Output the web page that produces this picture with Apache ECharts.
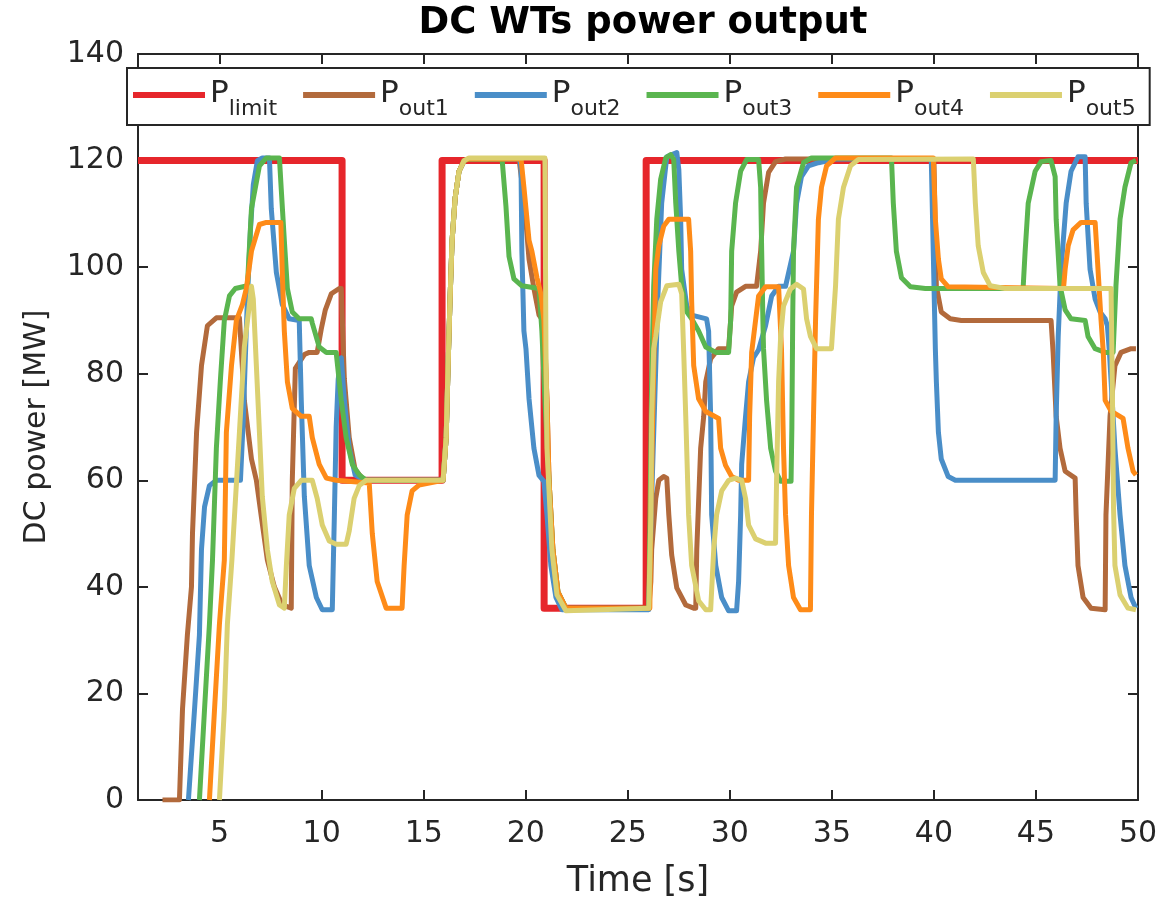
<!DOCTYPE html>
<html>
<head>
<meta charset="utf-8">
<title>DC WTs power output</title>
<script src="https://cdn.jsdelivr.net/npm/echarts@6/dist/echarts.min.js"></script>
<style>
  html, body { margin: 0; padding: 0; background: #fff; }
  #chart { width: 1161px; height: 904px; }
</style>
</head>
<body>
<div id="chart"></div>
<script>
// time ticks shown on the x axis (axis itself starts at t = 1 s)
const xTicks = [5, 10, 15, 20, 25, 30, 35, 40, 45, 50];

// power limit [MW] (step signal)
const pLimit = [
  [1, 120], [11, 120], [11, 60], [15.9, 60], [15.9, 120], [20.9, 120],
  [20.9, 36], [25.9, 36], [25.9, 120], [50, 120],
];

// WT 1 output [time s, MW]
const pOut1 = [
  [2.2, 0], [3.03, 0], [3.18, 17], [3.42, 31], [3.62, 40], [3.67, 50], [3.87, 69], [4.11, 81.5],
  [4.4, 89], [4.84, 90.5], [5.97, 90.5], [6.21, 75], [6.56, 64], [6.8, 60], [7.05, 53], [7.34, 45],
  [7.68, 40], [8.07, 36.6], [8.51, 36], [8.56, 60], [8.71, 81], [9.15, 83.6], [9.39, 84], [9.78, 84],
  [9.98, 88.4], [10.18, 92], [10.47, 95], [10.86, 96], [10.96, 96], [11.11, 79], [11.35, 68],
  [11.64, 62], [12.08, 60], [15.95, 60], [16.1, 68], [16.19, 81], [16.29, 94], [16.39, 105],
  [16.54, 113], [16.73, 118], [16.98, 120], [17.22, 120.3], [19.67, 120.3], [19.91, 113],
  [20.16, 101.5], [20.4, 96], [20.65, 91], [20.84, 90], [20.94, 86], [21.04, 75], [21.14, 60],
  [21.33, 47], [21.58, 39], [21.97, 36], [26.03, 36], [26.13, 41], [26.17, 47], [26.37, 56.6],
  [26.52, 60], [26.76, 60.7], [26.91, 60.4], [27.01, 53.5], [27.15, 46], [27.4, 39.8], [27.84, 36.6],
  [28.23, 36], [28.33, 36], [28.38, 47], [28.57, 66], [28.72, 72], [28.82, 78.5], [29.06, 82.8],
  [29.45, 84.7], [29.94, 84.7], [30.09, 92.7], [30.33, 95.3], [30.77, 96.4], [31.31, 96.4],
  [31.51, 103], [31.65, 112], [31.9, 117.8], [32.24, 119.8], [32.73, 120.3], [40.0, 120.3],
  [40.12, 96.4], [40.36, 91.6], [40.8, 90.3], [41.34, 90], [45.74, 90], [45.84, 84], [45.99, 72],
  [46.18, 66], [46.43, 61.7], [46.92, 60.4], [46.97, 53.5], [47.06, 44], [47.31, 38], [47.7, 36],
  [48.39, 35.7], [48.43, 53.5], [48.63, 72], [48.87, 81.5], [49.17, 84], [49.66, 84.7], [49.9, 84.7],
];

const pOut2 = [
  [3.47, 0], [3.77, 17], [4.01, 31], [4.11, 47], [4.26, 55], [4.5, 59], [4.84, 60], [6.02, 60],
  [6.16, 71.6], [6.26, 83], [6.36, 94], [6.51, 107], [6.65, 115.5], [6.85, 120], [7.09, 120.5],
  [7.44, 120.5], [7.53, 111], [7.78, 99], [8.07, 93], [8.41, 90.3], [8.9, 90], [9.0, 75], [9.15, 57],
  [9.39, 44], [9.74, 38], [10.03, 35.7], [10.52, 35.7], [10.62, 53], [10.71, 70], [10.81, 79],
  [10.96, 83], [11.11, 75], [11.35, 66], [11.64, 61], [12.08, 60], [15.95, 60], [16.1, 68],
  [16.19, 81], [16.29, 94], [16.39, 105], [16.54, 113], [16.73, 118], [16.98, 120], [17.22, 120.3],
  [19.72, 120.3], [19.77, 118], [19.81, 103], [19.91, 88], [20.01, 84.7], [20.16, 75.3], [20.4, 66],
  [20.65, 60.9], [20.89, 59.8], [21.04, 53.5], [21.23, 44], [21.48, 38], [21.77, 35.7], [26.03, 35.7],
  [26.17, 56.6], [26.32, 75], [26.47, 94], [26.66, 112], [26.91, 120.7], [27.4, 121.5], [27.5, 118.3],
  [27.59, 109], [27.64, 99.6], [27.89, 92.7], [28.13, 91], [28.86, 90.3], [28.96, 88], [29.06, 72],
  [29.11, 53.5], [29.31, 44], [29.6, 38], [29.94, 35.5], [30.33, 35.5], [30.43, 41], [30.53, 53.5],
  [30.58, 63], [30.77, 72], [30.92, 78.5], [31.16, 83], [31.41, 84.5], [31.75, 89], [32.05, 94.6],
  [32.39, 96.4], [32.73, 96.4], [33.12, 103], [33.27, 112], [33.51, 117], [33.85, 119], [34.34, 119.6],
  [35.18, 120.3], [39.87, 120.3], [40.07, 84.7], [40.12, 78.5], [40.22, 69], [40.36, 64], [40.7, 60.7],
  [41.05, 60], [45.94, 60], [45.99, 72], [46.09, 87], [46.23, 99.6], [46.48, 112], [46.72, 118],
  [47.06, 120.7], [47.41, 120.7], [47.46, 112], [47.65, 99.6], [47.9, 94], [48.14, 91.6], [48.39, 90.3],
  [48.5, 89], [48.6, 84], [48.87, 66], [49.12, 53.5], [49.36, 44], [49.66, 38], [49.9, 36],
];

const pOut3 = [
  [4.01, 0], [4.26, 17], [4.5, 33], [4.65, 45], [4.84, 66], [5.04, 79], [5.23, 90], [5.48, 94.6],
  [5.77, 96], [6.36, 96.5], [6.56, 111], [6.95, 119], [7.29, 120.5], [7.93, 120.5], [8.02, 114.6],
  [8.17, 105], [8.32, 96], [8.56, 91.6], [8.9, 90.3], [9.49, 90.3], [9.54, 89.5], [9.88, 85],
  [10.23, 84], [10.71, 84], [10.96, 75], [11.2, 68], [11.5, 63], [11.84, 61], [12.18, 60], [15.95, 60],
  [16.1, 68], [16.19, 81], [16.29, 94], [16.39, 105], [16.54, 113], [16.73, 118], [16.98, 120],
  [17.22, 120.3], [18.84, 120.3], [19.03, 111.4], [19.18, 102], [19.42, 97.8], [19.81, 96.5],
  [20.65, 96], [20.79, 88], [20.94, 75], [21.14, 60], [21.33, 47], [21.58, 39], [21.97, 36],
  [26.03, 36], [26.08, 50], [26.17, 79], [26.27, 96.5], [26.42, 109], [26.61, 116.5], [26.86, 120.5],
  [27.1, 121.1], [27.25, 120.2], [27.35, 112], [27.5, 103], [27.64, 96.5], [27.89, 91.6], [28.13, 90.3],
  [28.47, 88], [28.82, 85], [29.31, 84], [29.94, 84], [30.04, 90], [30.09, 103], [30.28, 112],
  [30.53, 118], [30.82, 120.2], [31.41, 120.2], [31.51, 115], [31.56, 103], [31.62, 90], [31.65, 84.7],
  [31.8, 75], [32.0, 66], [32.24, 61.7], [32.49, 59.8], [33.0, 59.8], [33.04, 70], [33.08, 90],
  [33.12, 103], [33.27, 115], [33.61, 119.6], [34.0, 120.5], [37.92, 120.5], [38.01, 112], [38.16, 103],
  [38.41, 98], [38.85, 96.3], [39.58, 96], [44.37, 96], [44.47, 103], [44.62, 112], [44.96, 118],
  [45.25, 119.8], [45.74, 120], [45.94, 117], [45.99, 109], [46.18, 96.5], [46.43, 92], [46.72, 90.3],
  [47.41, 90], [47.55, 87], [47.9, 84.7], [48.39, 84], [48.78, 84], [48.92, 96.5], [49.12, 109],
  [49.36, 115], [49.66, 119.6], [49.9, 120],
];

const pOut4 = [
  [4.5, 0], [4.75, 17], [4.99, 33], [5.23, 45], [5.33, 69], [5.58, 81.5], [5.82, 90], [6.12, 93],
  [6.31, 96], [6.56, 103], [6.95, 108], [7.29, 108.4], [8.0, 108.4], [8.07, 99], [8.17, 88],
  [8.32, 78.5], [8.56, 73.5], [9.0, 72], [9.39, 72], [9.54, 68], [9.88, 63], [10.23, 60.4], [10.71, 60],
  [12.33, 59.5], [12.48, 50], [12.72, 41], [13.16, 36], [13.94, 36], [14.04, 44], [14.19, 53.5],
  [14.43, 58], [14.77, 59.1], [15.95, 60], [16.1, 68], [16.19, 81], [16.29, 94], [16.39, 105],
  [16.54, 113], [16.73, 118], [16.98, 120], [17.22, 120.3], [19.77, 120.3], [19.91, 115], [20.01, 111],
  [20.16, 105], [20.3, 103], [20.55, 98], [20.74, 95], [20.89, 90], [21.04, 75], [21.14, 60],
  [21.33, 47], [21.58, 39], [21.97, 36], [26.08, 36], [26.13, 53], [26.22, 72], [26.32, 90],
  [26.37, 99.6], [26.52, 104], [26.76, 107.7], [27.01, 109], [27.98, 109], [28.08, 103], [28.13, 93.5],
  [28.23, 81.5], [28.47, 75.3], [28.82, 72.9], [29.45, 71.6], [29.55, 66], [29.79, 62.8], [30.09, 60.7],
  [30.43, 60], [30.92, 60], [30.97, 72], [31.07, 84], [31.26, 90], [31.41, 94.6], [31.75, 96.3],
  [32.39, 96.3], [32.53, 84.7], [32.63, 66], [32.73, 53.5], [32.88, 44], [33.12, 38], [33.46, 35.7],
  [33.95, 35.7], [34.0, 53.5], [34.1, 72], [34.2, 90], [34.34, 109], [34.49, 115], [34.74, 119],
  [35.18, 120.5], [39.97, 120.5], [40.07, 109], [40.22, 101.5], [40.36, 97.8], [40.7, 96.3],
  [46.35, 96], [46.43, 99.6], [46.58, 104], [46.82, 107], [47.21, 108.4], [47.9, 108.4], [48.04, 99.6],
  [48.19, 90], [48.3, 84], [48.39, 75], [48.68, 73], [49.27, 71.6], [49.51, 66], [49.76, 61.7], [49.9, 61],
];

const pOut5 = [
  [4.99, 0], [5.23, 17], [5.38, 33], [5.6, 45], [5.97, 69], [6.21, 85], [6.46, 93], [6.56, 96.4],
  [6.65, 94], [6.8, 81.5], [6.95, 69], [7.09, 57], [7.34, 47], [7.58, 41], [7.93, 36.6], [8.17, 36],
  [8.27, 44], [8.41, 53.5], [8.66, 58.5], [9.0, 60], [9.54, 60], [9.78, 56.6], [10.03, 51.6],
  [10.37, 48.6], [10.71, 48], [11.2, 48], [11.35, 50.5], [11.59, 56.6], [11.84, 59], [12.18, 60],
  [15.95, 60], [16.1, 68], [16.19, 81], [16.29, 94], [16.39, 105], [16.54, 113], [16.73, 118],
  [16.98, 120], [17.22, 120.5], [20.94, 120.5], [20.99, 84.7], [21.04, 66], [21.28, 47], [21.53, 38.5],
  [21.97, 35.5], [26.03, 36], [26.13, 53.5], [26.17, 72], [26.27, 84.7], [26.37, 87], [26.61, 93.5],
  [26.91, 96.5], [27.5, 96.8], [27.64, 95], [27.74, 84], [27.84, 72], [27.98, 53.5], [28.13, 44],
  [28.47, 37.4], [28.82, 35.7], [29.06, 35.7], [29.21, 47], [29.35, 53.5], [29.6, 58], [29.94, 60],
  [30.28, 60.4], [30.58, 60], [30.77, 56.6], [30.92, 51.6], [31.26, 49], [31.75, 48.2], [32.24, 48.2],
  [32.29, 60], [32.39, 78.5], [32.49, 87], [32.63, 92.7], [32.97, 95.9], [33.27, 96.8], [33.61, 95.9],
  [33.76, 90.3], [33.95, 87], [34.25, 84.7], [34.98, 84.7], [35.18, 96.5], [35.32, 109], [35.57, 115],
  [35.91, 119], [36.3, 120.2], [41.93, 120.3], [42.03, 112], [42.17, 104], [42.42, 99], [42.76, 96.5],
  [43.49, 96], [48.68, 96], [48.7, 90], [48.75, 75], [48.8, 55], [48.87, 44], [49.12, 38.5],
  [49.51, 36], [49.9, 35.7],
];

const seriesNames = ['Plimit', 'Pout1', 'Pout2', 'Pout3', 'Pout4', 'Pout5'];
const seriesData = [pLimit, pOut1, pOut2, pOut3, pOut4, pOut5];
const seriesColors = ['#e6262b', '#b26a3c', '#4a8ec8', '#5ab54f', '#fe8b18', '#dbd070'];

const FONT = 'DejaVu Sans';
const INK = '#262626';

const chart = echarts.init(document.getElementById('chart'), null, { renderer: 'canvas' });

const series = seriesNames.map((name, idx) => ({
  name,
  type: 'line',
  data: seriesData[idx],
  symbol: 'none',
  showSymbol: false,
  color: seriesColors[idx],
  lineStyle: { width: idx === 0 ? 7 : 5, color: seriesColors[idx], join: 'round' },
  z: 2 + idx,
}));

const boxAxis = {
  axisLine: { show: true, onZero: false, lineStyle: { color: INK, width: 2 } },
  axisTick: { show: true, inside: true, length: 10, lineStyle: { color: INK, width: 2 } },
  splitLine: { show: false },
};

const option = {
  backgroundColor: '#fff',
  animation: false,
  title: {
    text: 'DC WTs power output',
    left: 638,
    textAlign: 'center',
    top: 0,
    textStyle: { fontFamily: FONT, fontWeight: 'bold', fontSize: 37, color: '#000' },
  },
  grid: { left: 138, right: 23, top: 54, bottom: 101, containLabel: false },
  legend: {
    left: 127,
    top: 68,
    padding: [10, 14, 1, 6],
    itemGap: 26,
    itemWidth: 72,
    itemHeight: 6,
    icon: 'rect',
    backgroundColor: '#fff',
    borderColor: INK,
    borderWidth: 2,
    borderRadius: 0,
    data: seriesNames,
    formatter: (name) => `{p|P}{s|${name.slice(1)}}`,
    textStyle: {
      fontFamily: FONT,
      color: INK,
      rich: {
        p: { fontFamily: FONT, fontSize: 31, color: INK, lineHeight: 34, verticalAlign: 'top' },
        s: { fontFamily: FONT, fontSize: 22, color: INK, lineHeight: 26, verticalAlign: 'top', padding: [20, 0, 4, 0] },
      },
    },
  },
  xAxis: [
    {
      type: 'value',
      min: 1,
      max: 50,
      position: 'bottom',
      ...boxAxis,
      axisTick: { ...boxAxis.axisTick, customValues: xTicks },
      axisLabel: {
        customValues: xTicks,
        fontFamily: FONT,
        fontSize: 30,
        color: INK,
        margin: 19,
      },
      name: 'Time [s]',
      nameLocation: 'middle',
      nameGap: 64,
      nameTextStyle: { fontFamily: FONT, fontSize: 35, color: INK },
    },
    {
      type: 'value',
      min: 1,
      max: 50,
      position: 'top',
      ...boxAxis,
      axisTick: { ...boxAxis.axisTick, customValues: xTicks },
      axisLabel: { show: false, customValues: xTicks },
    },
  ],
  yAxis: [
    {
      type: 'value',
      min: 0,
      max: 140,
      interval: 20,
      position: 'left',
      ...boxAxis,
      axisLabel: { fontFamily: FONT, fontSize: 30, color: INK, margin: 14 },
      name: 'DC power [MW]',
      nameLocation: 'middle',
      nameGap: 86,
      nameRotate: 90,
      nameTextStyle: { fontFamily: FONT, fontSize: 30, color: INK },
    },
    {
      type: 'value',
      min: 0,
      max: 140,
      interval: 20,
      position: 'right',
      ...boxAxis,
      axisLabel: { show: false },
    },
  ],
  series,
};

chart.setOption(option);
</script>
</body>
</html>
